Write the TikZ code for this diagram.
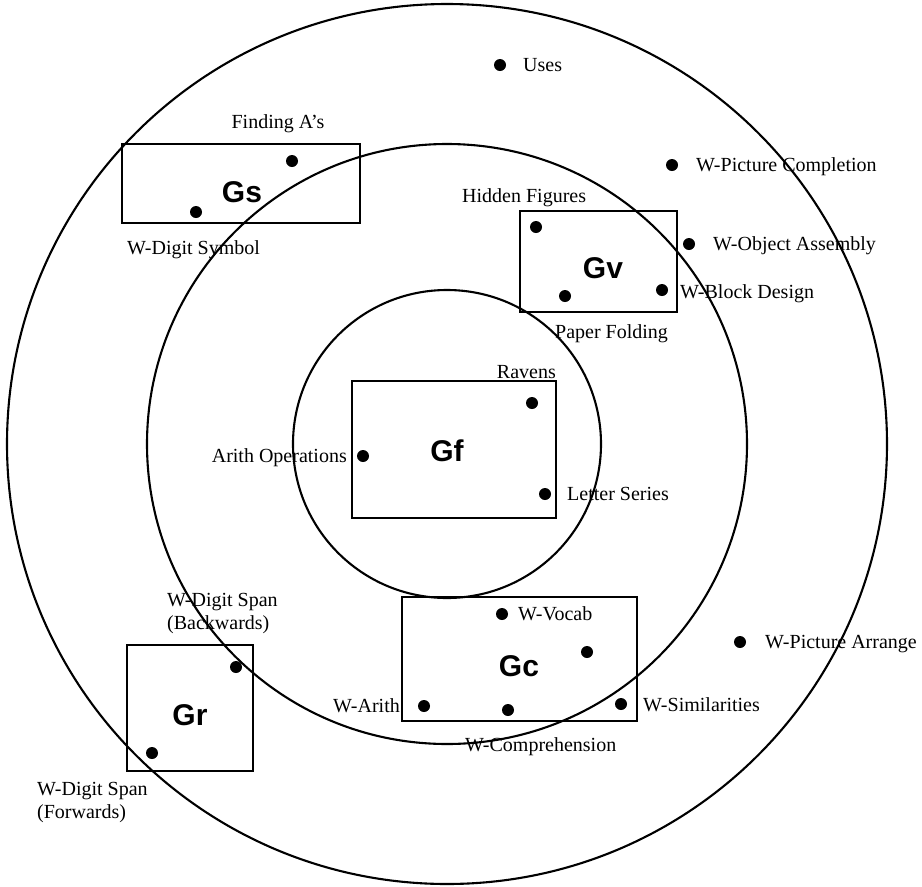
\documentclass[tikz,border=0pt]{standalone}
\usepackage{fontspec}
\setmainfont{Liberation Serif}
\newfontfamily\catfont{Liberation Sans}
\begin{document}
\begin{tikzpicture}[x=1pt,y=-1pt,
  ring/.style={line width=2.1pt},
  catbox/.style={draw, rectangle, line width=2.3pt, inner sep=0pt},
  cat/.style={font=\catfont\bfseries\fontsize{30}{32}\selectfont, inner sep=0pt},
  test/.style={circle, fill, inner sep=0pt, minimum size=12pt},
  lab/.style={font=\fontsize{20}{23}\selectfont, inner sep=0pt}]
\useasboundingbox (0,0) rectangle (922,887);

% three concentric rings
\coordinate (ctr) at (447,444);
\draw[ring] (ctr) circle[radius=440pt];
\draw[ring] (ctr) circle[radius=300pt];
\draw[ring] (ctr) circle[radius=154pt];

% factor boxes
\node[catbox, minimum width=238pt, minimum height=79pt] (gsbox) at (241,183.5) {};
\node[catbox, minimum width=157pt, minimum height=101pt] (gvbox) at (598.5,261.5) {};
\node[catbox, line width=1.3pt, minimum width=204pt, minimum height=137pt] (gfbox) at (454,449.5) {};
\node[catbox, minimum width=235pt, minimum height=124pt] (gcbox) at (519.5,659) {};
\node[catbox, minimum width=126pt, minimum height=126pt] (grbox) at (190,708) {};

\node[cat] (gs) at (242,192) {Gs};
\node[cat] (gv) at (603,268) {Gv};
\node[cat] (gf) at (447,451) {Gf};
\node[cat] (gc) at (519,666) {Gc};
\node[cat] (gr) at (190,715) {Gr};

% tests
\node[test] (uses) at (500,65) {};
\node[test] (finda) at (292,161) {};
\node[test] (dsym) at (196,212) {};
\node[test] (picc) at (672,165) {};
\node[test] (hidf) at (536,227) {};
\node[test] (obja) at (689,244) {};
\node[test] (paperf) at (565,296) {};
\node[test] (blockd) at (662,290) {};
\node[test] (ravens) at (532,403) {};
\node[test] (arith) at (363,456) {};
\node[test] (letter) at (545,494) {};
\node[test] (vocab) at (502,614) {};
\node[test] (gcdot) at (587,652) {};
\node[test] (warith) at (424,706) {};
\node[test] (wcomp) at (508,710) {};
\node[test] (wsim) at (621,704) {};
\node[test] (picarr) at (740,642) {};
\node[test] (dsb) at (236,667) {};
\node[test] (dsf) at (152,753) {};

% test names
\node[lab, anchor=base west] (tuses) at (523,71) {Uses};
\node[lab, anchor=base] (tfinda) at (278,128) {Finding A’s};
\node[lab, anchor=base west] (tdsym) at (127,254) {W-Digit Symbol};
\node[lab, anchor=base west] (tpicc) at (696,171) {W-Picture Completion};
\node[lab, anchor=base west] (thidf) at (462,202) {Hidden Figures};
\node[lab, anchor=base west] (tobja) at (713,250) {W-Object Assembly};
\node[lab, anchor=base west] (tblockd) at (680,298) {W-Block Design};
\node[lab, anchor=base west] (tpaperf) at (555,338) {Paper Folding};
\node[lab, anchor=base east] (travens) at (556,378) {Ravens};
\node[lab, anchor=base east] (tarith) at (347,462) {Arith Operations};
\node[lab, anchor=base west] (tletter) at (567,500) {Letter Series};
\node[lab, anchor=base west] (tvocab) at (518,620) {W-Vocab};
\node[lab, anchor=base east] (twarith) at (400,712) {W-Arith};
\node[lab, anchor=base west] (twsim) at (643,711) {W-Similarities};
\node[lab, anchor=base west] (twcomp) at (465,751) {W-Comprehension};
\node[lab, anchor=base west] (tpicarr) at (765,648) {W-Picture Arrange};
\node[lab, anchor=west, align=left] (tdsb) at (167,613.5) {W-Digit Span\\(Backwards)};
\node[lab, anchor=west, align=left] (tdsf) at (37,802) {W-Digit Span\\(Forwards)};
\end{tikzpicture}
\end{document}
